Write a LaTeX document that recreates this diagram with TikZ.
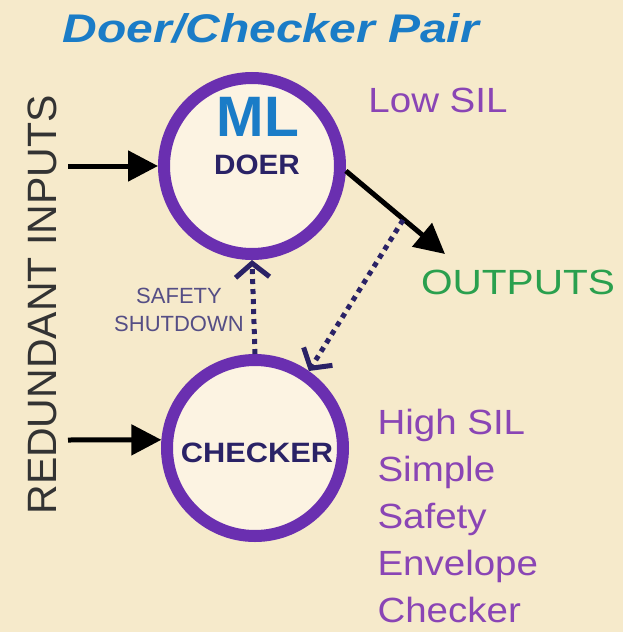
\documentclass[tikz,border=0pt]{standalone}
\usepackage{fontspec}
\setmainfont{Liberation Sans}
\usetikzlibrary{arrows.meta}
\definecolor{parch}{HTML}{F6EACB}
\definecolor{ringfill}{HTML}{FCF3E2}
\definecolor{ring}{HTML}{6A2FB0}
\definecolor{mlblue}{HTML}{1A7CC7}
\definecolor{navy}{HTML}{2A2266}
\definecolor{silpurple}{HTML}{8A45B5}
\definecolor{outgreen}{HTML}{2AA04E}
\newcommand{\wide}[1]{\addfontfeature{FakeStretch=#1}}
\tikzset{
  unit/.style={circle,draw=ring,fill=ringfill,line width=12pt,minimum size=176pt,inner sep=0pt},
  feed/.style={line width=5pt,-{Triangle[length=30pt,width=30pt]}},
  watch/.style={navy,line width=5pt,dash pattern=on 5pt off 5pt,-{Straight Barb[length=14pt,width=34pt,line width=5pt]}},
  big/.style={font=\fontsize{35}{47}\selectfont\wide{#1}},
  big/.default=1.1
}
\begin{document}
\begin{tikzpicture}[x=1pt,y=-1pt]
    \fill[parch] (0,0) rectangle (623,632);
    \useasboundingbox (0,0) rectangle (623,632);
    \node[mlblue,font=\fontsize{40}{46}\selectfont\bfseries\itshape\wide{1.2}] (T) at (271,28) {Doer/Checker Pair};
    \node[unit] (D) at (252,166) {};
    \node[unit] (C) at (255,448) {};
    \node[mlblue,font=\fontsize{57}{62}\selectfont\bfseries] (ML) at (258,117) {ML};
    \node[navy,font=\fontsize{28}{32}\selectfont\bfseries\wide{1.06}] (DO) at (257,165) {DOER};
    \node[navy,font=\fontsize{28}{32}\selectfont\bfseries\wide{1.1}] (CH) at (257,453) {CHECKER};
    \node[black!80,font=\fontsize{41}{47}\selectfont,rotate=90] (RI) at (42,305) {REDUNDANT INPUTS};
    \node[silpurple,big] (LS) at (438,100) {Low SIL};
    \node[outgreen,big=1.16] (OU) at (518,282) {OUTPUTS};
    \node[silpurple,big,align=left,anchor=north west] (HS) at (374,406) {High SIL\\Simple\\Safety\\Envelope\\Checker};
    \node[navy!80,font=\fontsize{22}{28}\selectfont,align=center] (SS) at (179,310) {SAFETY\\SHUTDOWN};
    \coordinate (I1) at (68,166);
    \coordinate (I2) at (68,440);
    \coordinate (O) at (445,254);
    \coordinate (W) at (403,220);
    \path[feed] (I1) edge (D.west);
    \path[feed] (I2) edge (C.175);
    \path[feed] (D.-3) edge (O);
    \path[watch] (C.north) edge (D.south);
    \path[watch] (W) edge (C.55);
\end{tikzpicture}
\end{document}
